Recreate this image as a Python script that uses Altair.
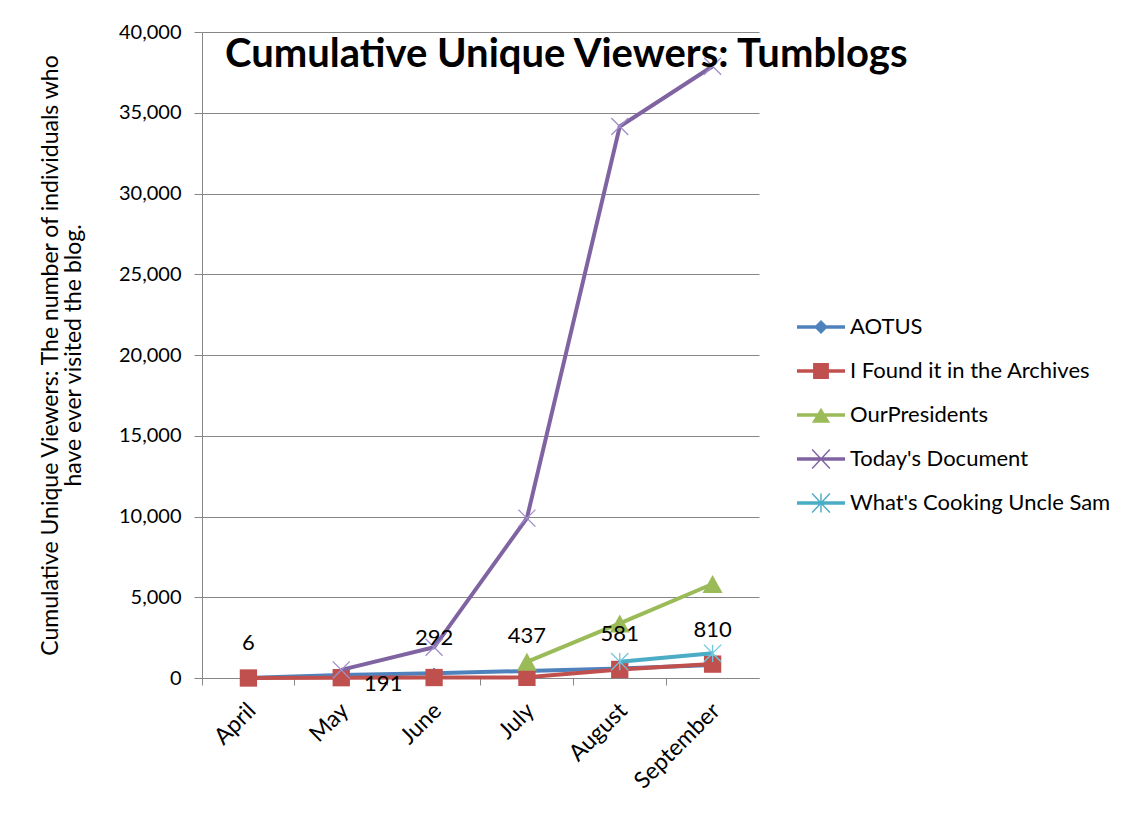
import math
import altair as alt
import pandas as pd

months = ["April", "May", "June", "July", "August", "September"]
series_names = [
    "AOTUS",
    "I Found it in the Archives",
    "OurPresidents",
    "Today's Document",
    "What's Cooking Uncle Sam",
]
aotus = [6, 191, 292, 437, 581, 810]
archives = [0, 20, 30, 40, 530, 860]
our_presidents = [None, None, None, 1000, 3380, 5820]
todays_document = [None, 500, 1900, 9900, 34150, 37880]
whats_cooking = [None, None, None, None, 1010, 1530]
series_values = [aotus, archives, our_presidents, todays_document, whats_cooking]

y_ticks = [0, 5000, 10000, 15000, 20000, 25000, 30000, 35000, 40000]

colors = ["#4F81BD", "#C0504D", "#9BBB59", "#8064A2", "#4BACC6"]

rows = []
for name, vals in zip(series_names, series_values):
    for m, v in zip(months, vals):
        if v is not None:
            rows.append({"series": name, "month": m, "value": v})
df = pd.DataFrame(rows)


# ---- marker path helpers (styling only) ----
def bar(x1, y1, x2, y2, w):
    dx, dy = x2 - x1, y2 - y1
    L = math.hypot(dx, dy)
    nx, ny = -dy / L * w, dx / L * w
    pts = [(x1 - nx, y1 - ny), (x2 - nx, y2 - ny), (x2 + nx, y2 + ny), (x1 + nx, y1 + ny)]
    return "M" + "L".join(f"{a:.3f},{b:.3f}" for a, b in pts) + "Z"


line_seg = bar(-1, 0, 1, 0, 0.075)
xcross = bar(-0.37, -0.4, 0.37, 0.4, 0.03) + bar(-0.37, 0.4, 0.37, -0.4, 0.03)
legend_paths = [
    line_seg + "M0,-0.29L0.29,0L0,0.29L-0.29,0Z",
    line_seg + "M-0.33,-0.33L0.33,-0.33L0.33,0.33L-0.33,0.33Z",
    line_seg + "M0,-0.3L0.38,0.32L-0.38,0.32Z",
    line_seg + xcross,
    line_seg + xcross + bar(0, -0.4, 0, 0.4, 0.03),
]

marker_specs = [
    dict(shape="diamond", size=130, filled=True, color=colors[0]),
    dict(shape="square", size=300, filled=True, color=colors[1]),
    dict(shape="M0,-0.9L1,0.9L-1,0.9Z", size=400, filled=True, color=colors[2]),
    dict(shape="M-1,-1L1,1M-1,1L1,-1", size=290, filled=False, color="#A08DCB", strokeWidth=1.3),
    dict(shape="M-1,-1L1,1M-1,1L1,-1M0,-1L0,1", size=300, filled=False, color="#6FC6DE", strokeWidth=1.3),
]

FONT = "Lato"

x_enc = alt.X(
    "month:N",
    scale=alt.Scale(type="band", domain=months, paddingInner=0, paddingOuter=0),
    axis=alt.Axis(
        title=None,
        labelAngle=-45,
        bandPosition=0,
        labelOffset=-4,
        labelFont=FONT,
        labelFontSize=23,
        labelColor="black",
        labelPadding=14,
        domainColor="#868686",
        tickColor="#868686",
        tickSize=7,
        grid=False,
    ),
)
y_enc = alt.Y(
    "value:Q",
    scale=alt.Scale(domain=[0, 40000], nice=False),
    axis=alt.Axis(
        values=y_ticks,
        format=",.0f",
        title=[
            "Cumulative Unique Viewers: The number of individuals who",
            "have ever visited the blog.",
        ],
        titleFont=FONT,
        titleFontSize=23,
        titleFontWeight="normal",
        titleColor="black",
        titleLineHeight=23,
        titlePadding=33,
        labelFont=FONT,
        labelFontSize=20,
        labelColor="black",
        labelPadding=13,
        domainColor="#868686",
        tickColor="#868686",
        tickSize=8,
        grid=True,
        gridColor="#868686",
        gridWidth=1,
    ),
)

layers = []
for name, spec, col in zip(series_names, marker_specs, colors):
    sub = alt.Chart(df).transform_filter(alt.datum.series == name)
    layers.append(
        sub.mark_line(strokeWidth=4, color=col).encode(x=x_enc, y=y_enc)
    )
    pt_kwargs = dict(
        shape=spec["shape"],
        size=spec["size"],
        filled=spec["filled"],
        color=spec["color"],
        opacity=1,
    )
    if "strokeWidth" in spec:
        pt_kwargs["strokeWidth"] = spec["strokeWidth"]
    layers.append(sub.mark_point(**pt_kwargs).encode(x=x_enc, y=y_enc))

leg = alt.Legend(
    title=None,
    orient="none",
    legendX=595,
    legendY=271,
    symbolSize=2304,
    symbolStrokeWidth=0,
    symbolOpacity=1,
    labelFont=FONT,
    labelFontSize=22,
    labelColor="black",
    labelOffset=5,
    labelLimit=400,
    rowPadding=9,
    padding=0,
)
legend_layer = (
    alt.Chart(df)
    .transform_filter("false")
    .mark_point(filled=True, opacity=1, strokeWidth=0)
    .encode(
        x=x_enc,
        y=y_enc,
        color=alt.Color("series:N", scale=alt.Scale(domain=series_names, range=colors), legend=leg),
        shape=alt.Shape("series:N", scale=alt.Scale(domain=series_names, range=legend_paths), legend=leg),
    )
)
layers.append(legend_layer)

label_base = alt.Chart(df).transform_filter(alt.datum.series == series_names[0])
layers.append(
    label_base.transform_filter(alt.datum.month != "May")
    .mark_text(font=FONT, fontSize=22, color="black", dy=-35, baseline="middle")
    .encode(x=x_enc, y=y_enc, text=alt.Text("value:Q", format=",.0f"))
)
layers.append(
    label_base.transform_filter(alt.datum.month == "May")
    .mark_text(font=FONT, fontSize=22, color="black", dx=42, dy=9, baseline="middle")
    .encode(x=x_enc, y=y_enc, text=alt.Text("value:Q", format=",.0f"))
)

chart = (
    alt.layer(*layers)
    .properties(
        width=557,
        height=646,
        title=alt.TitleParams(
            "Cumulative Unique Viewers: Tumblogs",
            anchor="start",
            frame="group",
            dx=23,
            dy=52,
            offset=-33,
            baseline="alphabetic",
            font=FONT,
            fontSize=40,
            fontWeight="bold",
            color="black",
        ),
        padding={"left": 194, "top": 24, "right": 358, "bottom": 134},
        autosize=alt.AutoSizeParams(type="none"),
    )
    .configure_view(stroke=None)
)

chart.save("out.html", embed_options={"renderer": "svg", "actions": False})
